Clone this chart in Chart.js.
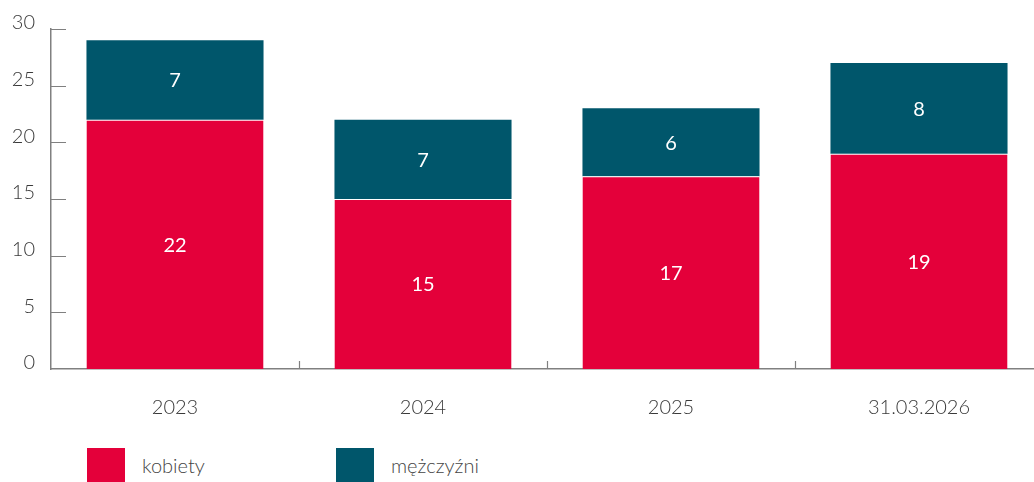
<!DOCTYPE html>
<html>
<head>
<meta charset="utf-8">
<script src="https://cdn.jsdelivr.net/npm/chart.js@4.4.1/dist/chart.umd.min.js"></script>
<style>
    body { margin: 0; background: #fff; font-family: Lato, sans-serif; overflow: hidden; }
    .chart-box { position: relative; width: 1043px; height: 430px; }
    .legend { position: relative; width: 1034px; height: 52px; }
    .legend-item { position: absolute; top: 18px; display: flex; align-items: center; }
    .legend-swatch { width: 38px; height: 34px; }
    .legend-text { font-size: 20px; font-weight: 300; color: #444; margin-left: 17px; }
</style>
</head>
<body>
<div class="chart-box"><canvas id="chart"></canvas></div>
<div class="legend" id="legend"></div>
<script>
const categories = ['2023', '2024', '2025', '31.03.2026'];
const kobiety = [22, 15, 17, 19];
const mezczyzni = [7, 7, 6, 8];
const seriesNames = ['kobiety', 'mężczyźni'];
const seriesColors = ['#e4003a', '#00566b'];
const yTicks = [0, 5, 10, 15, 20, 25, 30];

const axisColor = '#808080';

// white value labels centred in each segment
const valueLabels = {
    id: 'valueLabels',
    afterDatasetsDraw(chart) {
        const ctx = chart.ctx;
        ctx.save();
        ctx.fillStyle = '#fff';
        ctx.font = '400 20px Lato';
        ctx.textAlign = 'center';
        ctx.textBaseline = 'middle';
        chart.data.datasets.forEach((ds, i) => {
            chart.getDatasetMeta(i).data.forEach((bar, j) => {
                const y = (bar.y + bar.base) / 2;
                ctx.fillText(ds.data[j], bar.x, y + 1);
            });
        });
        ctx.restore();
    }
};

// inward tick marks on both axes
const innerTicks = {
    id: 'innerTicks',
    afterDraw(chart) {
        const ctx = chart.ctx;
        const x = chart.scales.x, y = chart.scales.y;
        const area = chart.chartArea;
        ctx.save();
        ctx.strokeStyle = axisColor;
        ctx.lineWidth = 1.2;
        ctx.beginPath();
        yTicks.forEach(v => {
            const py = Math.round(y.getPixelForValue(v)) + 0.5;
            if (v === 0) return;
            ctx.moveTo(area.left, py);
            ctx.lineTo(area.left + 15, py);
        });
        for (let i = 1; i < categories.length; i++) {
            const px = Math.round((x.getPixelForValue(i - 1) + x.getPixelForValue(i)) / 2) + 0.5;
            ctx.moveTo(px, area.bottom);
            ctx.lineTo(px, area.bottom - 8);
        }
        ctx.stroke();
        ctx.restore();
    }
};

new Chart(document.getElementById('chart'), {
    type: 'bar',
    data: {
        labels: categories,
        datasets: [
            { label: seriesNames[0], data: kobiety, backgroundColor: seriesColors[0], borderColor: '#fff', borderWidth: { top: 1, left: 0, right: 0, bottom: 0 }, borderSkipped: false },
            { label: seriesNames[1], data: mezczyzni, backgroundColor: seriesColors[1], borderWidth: 0 }
        ]
    },
    options: {
        responsive: true,
        maintainAspectRatio: false,
        animation: false,
        layout: { padding: { top: 29, right: 0, left: 0, bottom: 0 } },
        datasets: { bar: { categoryPercentage: 1, barPercentage: 0.714 } },
        plugins: {
            legend: { display: false },
            tooltip: { enabled: false }
        },
        scales: {
            x: {
                stacked: true,
                grid: { display: false, drawTicks: false },
                border: { display: true, color: axisColor, width: 1.5 },
                ticks: { color: '#3a3a3a', font: { family: 'Lato', size: 20, weight: '300' }, padding: 27 },
                afterFit: (scale) => { scale.height = 61; }
            },
            y: {
                stacked: true,
                min: 0,
                max: 30,
                afterBuildTicks: (scale) => { scale.ticks = yTicks.map(v => ({ value: v })); },
                grid: { display: false, drawTicks: false },
                border: { display: true, color: axisColor, width: 1.5 },
                ticks: { color: '#3a3a3a', font: { family: 'Lato', size: 20, weight: '300' }, padding: 16, labelOffset: -6 },
                afterFit: (scale) => { scale.width = 51; }
            }
        }
    },
    plugins: [valueLabels, innerTicks]
});

const legendPos = [87, 336];
const legendEl = document.getElementById('legend');
seriesNames.forEach((name, i) => {
    const item = document.createElement('div');
    item.className = 'legend-item';
    item.style.left = legendPos[i] + 'px';
    item.innerHTML = `<div class="legend-swatch" style="background:${seriesColors[i]}"></div><span class="legend-text">${name}</span>`;
    legendEl.appendChild(item);
});
</script>
</body>
</html>
